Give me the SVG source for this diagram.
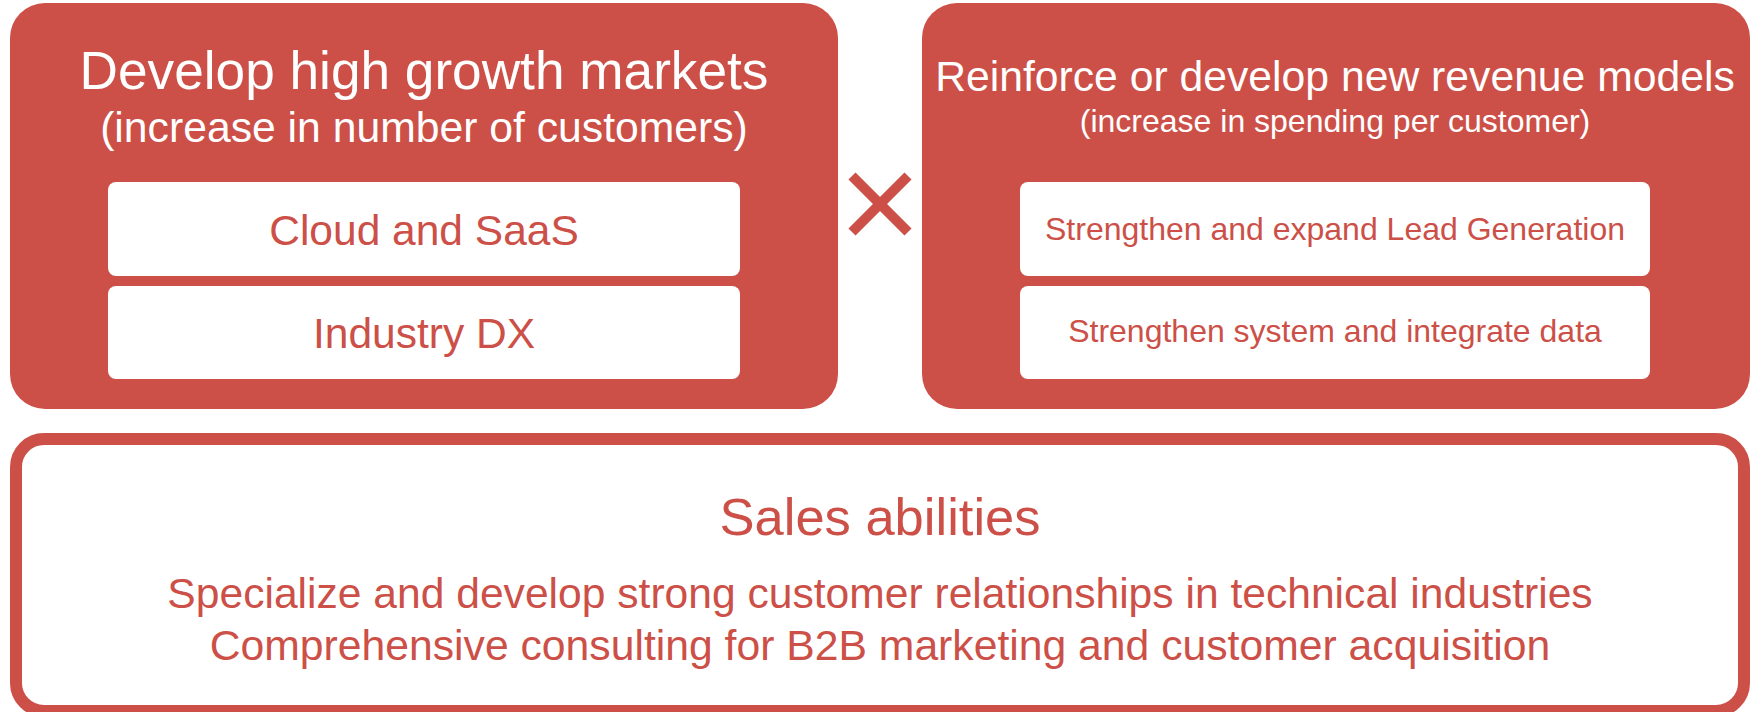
<svg xmlns="http://www.w3.org/2000/svg" width="1761" height="712" viewBox="0 0 1761 712">
  <style>
    .panel { fill: #CC5047; }
    .item { fill: #FFFFFF; }
    .frame { fill: #FFFFFF; stroke: #CC5047; stroke-width: 12; }
    text { font-family: "Liberation Sans", Arial, sans-serif; text-anchor: middle; }
    .light { fill: #FFFFFF; }
    .red { fill: #CC5047; }
  </style>

  <rect width="1761" height="712" fill="#FFFFFF"/>

  <!-- Left panel: high growth markets -->
  <g id="growth-markets">
    <rect class="panel" x="10" y="3" width="828" height="406" rx="35" ry="35"/>
    <text class="light" x="424" y="89" font-size="53.2">Develop high growth markets</text>
    <text class="light" x="424" y="142" font-size="42.7">(increase in number of customers)</text>
  </g>
  <g id="cloud-saas">
    <rect class="item" x="108" y="182" width="632" height="94" rx="8" ry="8"/>
    <text class="red" x="424" y="245" font-size="42.5">Cloud and SaaS</text>
  </g>
  <g id="industry-dx">
    <rect class="item" x="108" y="286" width="632" height="93" rx="8" ry="8"/>
    <text class="red" x="424" y="348" font-size="42.5">Industry DX</text>
  </g>

  <!-- Multiplication sign between the two panels -->
  <g id="times" stroke="#CC5047" stroke-width="10" stroke-linecap="butt">
    <line x1="852" y1="176" x2="908" y2="232"/>
    <line x1="908" y1="176" x2="852" y2="232"/>
  </g>

  <!-- Right panel: revenue models -->
  <g id="revenue-models">
    <rect class="panel" x="922" y="3" width="828" height="406" rx="35" ry="35"/>
    <text class="light" x="1335" y="91" font-size="42.7">Reinforce or develop new revenue models</text>
    <text class="light" x="1335" y="132" font-size="32">(increase in spending per customer)</text>
  </g>
  <g id="lead-generation">
    <rect class="item" x="1020" y="182" width="630" height="94" rx="8" ry="8"/>
    <text class="red" x="1335" y="240" font-size="32">Strengthen and expand Lead Generation</text>
  </g>
  <g id="system-data">
    <rect class="item" x="1020" y="286" width="630" height="93" rx="8" ry="8"/>
    <text class="red" x="1335" y="342" font-size="32">Strengthen system and integrate data</text>
  </g>

  <!-- Bottom frame: sales abilities -->
  <g id="sales-abilities">
    <rect class="frame" x="16" y="439" width="1728" height="272" rx="28" ry="28"/>
    <text class="red" x="880" y="535" font-size="52.5">Sales abilities</text>
    <text class="red" x="880" y="608" font-size="42.6">Specialize and develop strong customer relationships in technical industries</text>
    <text class="red" x="880" y="660" font-size="42.7">Comprehensive consulting for B2B marketing and customer acquisition</text>
  </g>

  <!-- No connecting lines in this figure -->
  <g id="connectors"/>
</svg>
